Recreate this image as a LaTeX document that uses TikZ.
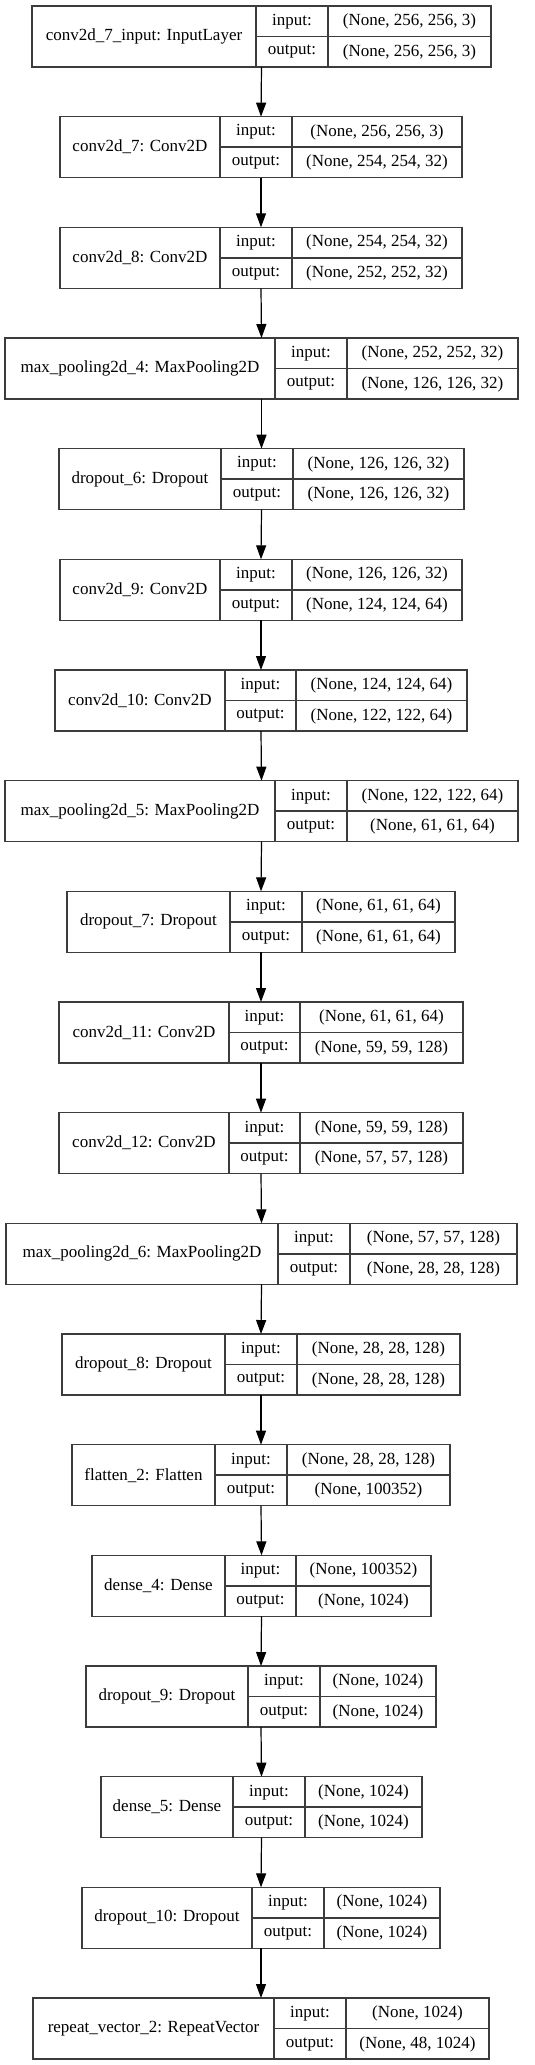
\documentclass[tikz,border=0pt]{standalone}
\usepackage{fontspec}
\setmainfont{Liberation Serif}
\usetikzlibrary{arrows.meta}
\definecolor{edge}{RGB}{60,60,60}
\tikzset{
  box/.style={draw=edge, line width=1.4pt, inner sep=0pt, outer sep=0pt, fill=white},
  ln/.style={draw=edge, line width=1.4pt},
  txt/.style={inner sep=0pt, font=\fontsize{17}{20}\selectfont, text=black},
  arr/.style={draw=black, line width=1.2pt, -{Triangle[length=14pt,width=10pt]}},
}
\newcommand{\klayer}[8]{%
  \pgfmathsetmacro\ktop{6+(#1-1)*110.667}%
  \pgfmathsetmacro\kw{#5-#2}%
  \node[box, minimum width=\kw pt, minimum height=61pt] (b#1) at ({(#2+#5)/2},{\ktop+30.5}) {};
  \draw[ln] (#3,\ktop) -- (#3,{\ktop+61});
  \draw[ln] (#4,\ktop) -- (#4,{\ktop+61});
  \draw[ln] (#3,{\ktop+30.5}) -- (#5,{\ktop+30.5});
  \node[txt] (b#1l) at ({(#2+#3)/2},{\ktop+30.5}) {#6};
  \node[txt] (b#1i) at ({(#3+#4)/2},{\ktop+15.5}) {input:};
  \node[txt] (b#1o) at ({(#3+#4)/2},{\ktop+46}) {output:};
  \node[txt] (b#1a) at ({(#4+#5)/2},{\ktop+15.5}) {#7};
  \node[txt] (b#1b) at ({(#4+#5)/2},{\ktop+46}) {#8};
}
\begin{document}
\begin{tikzpicture}[x=1pt,y=-1pt]
\useasboundingbox[fill=white] (0,0) rectangle (535,2065);
\klayer{1}{32}{256}{328}{491}{conv2d\_7\_input: InputLayer}{(None, 256, 256, 3)}{(None, 256, 256, 3)}
\klayer{2}{60}{220}{292}{462}{conv2d\_7: Conv2D}{(None, 256, 256, 3)}{(None, 254, 254, 32)}
\klayer{3}{60}{220}{292}{462}{conv2d\_8: Conv2D}{(None, 254, 254, 32)}{(None, 252, 252, 32)}
\klayer{4}{5}{275}{347}{518}{max\_pooling2d\_4: MaxPooling2D}{(None, 252, 252, 32)}{(None, 126, 126, 32)}
\klayer{5}{59}{221}{293}{464}{dropout\_6: Dropout}{(None, 126, 126, 32)}{(None, 126, 126, 32)}
\klayer{6}{60}{220}{292}{462}{conv2d\_9: Conv2D}{(None, 126, 126, 32)}{(None, 124, 124, 64)}
\klayer{7}{55}{225}{296}{467}{conv2d\_10: Conv2D}{(None, 124, 124, 64)}{(None, 122, 122, 64)}
\klayer{8}{5}{275}{347}{518}{max\_pooling2d\_5: MaxPooling2D}{(None, 122, 122, 64)}{(None, 61, 61, 64)}
\klayer{9}{67}{230}{302}{455}{dropout\_7: Dropout}{(None, 61, 61, 64)}{(None, 61, 61, 64)}
\klayer{10}{59}{229}{300}{463}{conv2d\_11: Conv2D}{(None, 61, 61, 64)}{(None, 59, 59, 128)}
\klayer{11}{59}{229}{300}{463}{conv2d\_12: Conv2D}{(None, 59, 59, 128)}{(None, 57, 57, 128)}
\klayer{12}{6}{278}{350}{517}{max\_pooling2d\_6: MaxPooling2D}{(None, 57, 57, 128)}{(None, 28, 28, 128)}
\klayer{13}{62}{225}{297}{460}{dropout\_8: Dropout}{(None, 28, 28, 128)}{(None, 28, 28, 128)}
\klayer{14}{72}{215}{287}{450}{flatten\_2: Flatten}{(None, 28, 28, 128)}{(None, 100352)}
\klayer{15}{92}{225}{296}{431}{dense\_4: Dense}{(None, 100352)}{(None, 1024)}
\klayer{16}{86}{248}{320}{436}{dropout\_9: Dropout}{(None, 1024)}{(None, 1024)}
\klayer{17}{101}{233}{305}{422}{dense\_5: Dense}{(None, 1024)}{(None, 1024)}
\klayer{18}{82}{252}{324}{440}{dropout\_10: Dropout}{(None, 1024)}{(None, 1024)}
\klayer{19}{33}{274}{346}{489}{repeat\_vector\_2: RepeatVector}{(None, 1024)}{(None, 48, 1024)}
\foreach \i [evaluate=\i as \j using int(\i+1)] in {1,...,18}
  \draw[arr] (b\i.south) -- (b\j.north);
\end{tikzpicture}
\end{document}
